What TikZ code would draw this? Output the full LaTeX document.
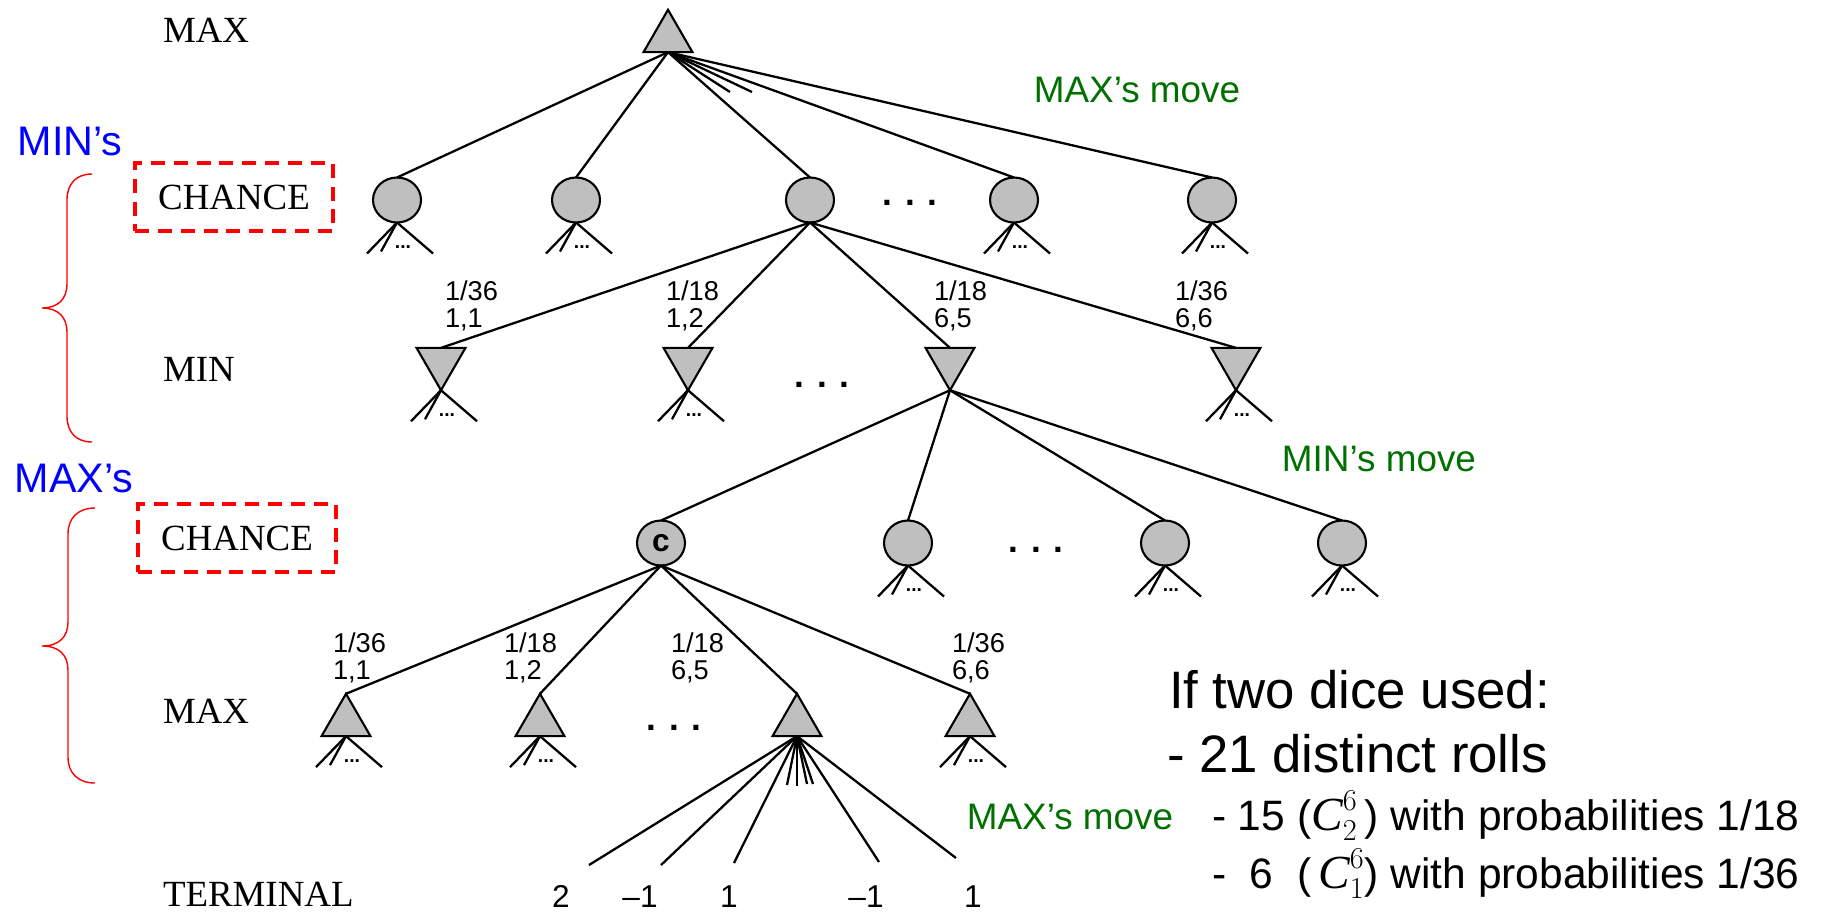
\documentclass[tikz,border=0pt]{standalone}
\usepackage{fontspec}
\setmainfont{Liberation Sans}
\newfontfamily\serifrm{Liberation Serif}
\usepackage{xcolor}
\usetikzlibrary{shapes.geometric}

\definecolor{movegreen}{RGB}{0,112,0}

% three short branches under a node that is not expanded
\newcommand{\stubs}[2]{%
  \coordinate (#1-a) at ([shift={(-30,31)}]#1.#2);
  \coordinate (#1-b) at ([shift={(-16,29)}]#1.#2);
  \coordinate (#1-c) at ([shift={(36,31)}]#1.#2);
  \draw[edge] (#1.#2) -- (#1-a);
  \draw[edge] (#1.#2) -- (#1-b);
  \draw[edge] (#1.#2) -- (#1-c);
  \node[tinydots] (#1-dots) at ([shift={(6,25)}]#1.#2) {...};
}

\begin{document}
\begin{tikzpicture}[
    x=0.02cm, y=-0.02cm,
    every node/.style={inner sep=0pt, outer sep=0pt},
    edge/.style={line width=1.3pt},
    maxnode/.style={regular polygon, regular polygon sides=3,
                    minimum size=1.13cm, draw=black, fill=gray!50,
                    line width=1.2pt},
    minnode/.style={maxnode, regular polygon rotate=180},
    chnode/.style={ellipse, draw=black, fill=gray!50, line width=1.2pt,
                   minimum width=0.96cm, minimum height=0.9cm,
                   font=\fontsize{18}{20}\selectfont\bfseries},
    lvl/.style={anchor=base west, font=\serifrm\fontsize{21}{24}\selectfont},
    chancebox/.style={draw=red, line width=2pt, dash pattern=on 8pt off 5pt,
                      minimum width=3.96cm, minimum height=1.36cm,
                      font=\serifrm\fontsize{21}{24}\selectfont},
    prob/.style={anchor=west, align=left, font=\fontsize{15.5}{15.5}\selectfont},
    movelbl/.style={text=movegreen, font=\fontsize{21}{25}\selectfont},
    sidelbl/.style={text=blue, font=\fontsize{23.5}{28}\selectfont},
    rowdots/.style={font=\fontsize{20}{24}\selectfont\bfseries},
    tinydots/.style={font=\fontsize{11}{12}\selectfont\bfseries},
    termval/.style={anchor=base, font=\fontsize{18}{22}\selectfont},
    brace/.style={red, line width=0.8pt},
    note/.style={anchor=base west, font=\fontsize{30}{36}\selectfont},
    subnote/.style={anchor=base west, font=\fontsize{24.2}{28}\selectfont},
]
\useasboundingbox (0,0) rectangle (1822,914);

% ── level names ─────────────────────────────────────────────
\node[lvl] (lmax)  at (163,42)  {MAX};
\node[chancebox] (lch1) at (234,197) {CHANCE};
\node[lvl] (lmin)  at (163,381) {MIN};
\node[chancebox] (lch2) at (237,538) {CHANCE};
\node[lvl] (lmax2) at (163,723) {MAX};
\node[lvl] (lterm) at (163,906) {TERMINAL};

% ── braces ──────────────────────────────────────────────────
\node[sidelbl] (mins) at (70,141) {MIN’s};
\draw[brace] (92,174) .. controls (76,174) and (67,184) .. (67,200)
    -- (67,284) .. controls (67,299) and (58,308) .. (42,308)
    .. controls (58,308) and (67,317) .. (67,332)
    -- (67,416) .. controls (67,432) and (76,442) .. (92,442);
\node[sidelbl] (maxs) at (74,478) {MAX’s};
\draw[brace] (95,508) .. controls (78,508) and (68,518) .. (68,534)
    -- (68,622) .. controls (68,637) and (59,646) .. (42,646)
    .. controls (59,646) and (68,655) .. (68,670)
    -- (68,757) .. controls (68,773) and (78,783) .. (95,783);

% ════ ROOT ═══════════════════════════════════════════════════
\node[maxnode] (root) at (668,38) {};
\foreach \x [count=\i] in {397,576,810,1014,1212}
    \node[chnode] (ca\i) at (\x,200) {};
\foreach \i in {1,...,5}
    \draw[edge] (root.side 2) -- (ca\i.north);
\coordinate (r1) at (730,92);
\coordinate (r2) at (752,92);
\draw[edge] (root.side 2) -- (r1);
\draw[edge] (root.side 2) -- (r2);
\node[rowdots] (dca) at (910,203) {. . .};
\node[movelbl] (mv1) at (1137,90) {MAX’s move};
\foreach \n in {ca1,ca2,ca4,ca5} {\stubs{\n}{south}}

% ════ MIN ROW ════════════════════════════════════════════════
\foreach \x [count=\i] in {441,688,950,1236}
    \node[minnode] (mn\i) at (\x,362) {};
\foreach \i in {1,...,4}
    \draw[edge] (ca3.south) -- (mn\i.side 2);
\node[prob] (p11) at (445,306) {1/36\\1,1};
\node[prob] (p12) at (666,306) {1/18\\1,2};
\node[prob] (p13) at (934,306) {1/18\\6,5};
\node[prob] (p14) at (1175,306) {1/36\\6,6};
\node[rowdots] (dmn) at (822,385) {. . .};
\foreach \n in {mn1,mn2,mn4} {\stubs{\n}{corner 1}}

% ════ CHANCE ROW 2 ═══════════════════════════════════════════
\node[chnode] (cb1) at (661,543) {c};
\foreach \x [count=\i from 2] in {908,1165,1342}
    \node[chnode] (cb\i) at (\x,543) {};
\foreach \i in {1,...,4}
    \draw[edge] (mn3.corner 1) -- (cb\i.north);
\node[rowdots] (dcb) at (1036,550) {. . .};
\node[movelbl] (mv2) at (1379,459) {MIN’s move};
\foreach \n in {cb2,cb3,cb4} {\stubs{\n}{south}}

% ════ MAX ROW ════════════════════════════════════════════════
\foreach \x [count=\i] in {346,540,797,970}
    \node[maxnode] (mx\i) at (\x,722) {};
\foreach \i in {1,...,4}
    \draw[edge] (cb1.south) -- (mx\i.corner 1);
\node[prob] (p21) at (333,658) {1/36\\1,1};
\node[prob] (p22) at (504,658) {1/18\\1,2};
\node[prob] (p23) at (671,658) {1/18\\6,5};
\node[prob] (p24) at (952,658) {1/36\\6,6};
\node[rowdots] (dmx) at (674,728) {. . .};
\foreach \n in {mx1,mx2,mx4} {\stubs{\n}{side 2}}

% ── terminal fan ────────────────────────────────────────────
\foreach \x/\y [count=\i] in {589/865,661/865,734/863,879/862,956/858}
    \coordinate (t\i) at (\x,\y);
\foreach \x/\y [count=\i] in {787/785,797/786,807/784,813/784}
    \coordinate (s\i) at (\x,\y);
\foreach \i in {1,...,5}
    \draw[edge] (mx3.side 2) -- (t\i);
\foreach \i in {1,...,4}
    \draw[edge] (mx3.side 2) -- (s\i);
\node[movelbl] (mv3) at (1070,817) {MAX’s move};

\node[termval] (v1) at (561,907) {2};
\node[termval] (v2) at (640,907) {\textendash1};
\node[termval] (v3) at (729,907) {1};
\node[termval] (v4) at (866,907) {\textendash1};
\node[termval] (v5) at (973,907) {1};

% ── note ────────────────────────────────────────────────────
\node[note] (n1) at (1169,708) {If two dice used:};
\node[note] (n2) at (1167,772) {- 21 distinct rolls};
\node[subnote] (n3) at (1212,830)
    {- 15 (${\hbox{\serifrm\itshape\fontsize{27}{30}\selectfont C}}^{6}_{2}$\,) with probabilities 1/18};
\node[subnote] (n4) at (1212,888)
    {-\ \ 6\ \ (\,${\hbox{\serifrm\itshape\fontsize{27}{30}\selectfont C}}^{6}_{1}$) with probabilities 1/36};

\end{tikzpicture}
\end{document}
